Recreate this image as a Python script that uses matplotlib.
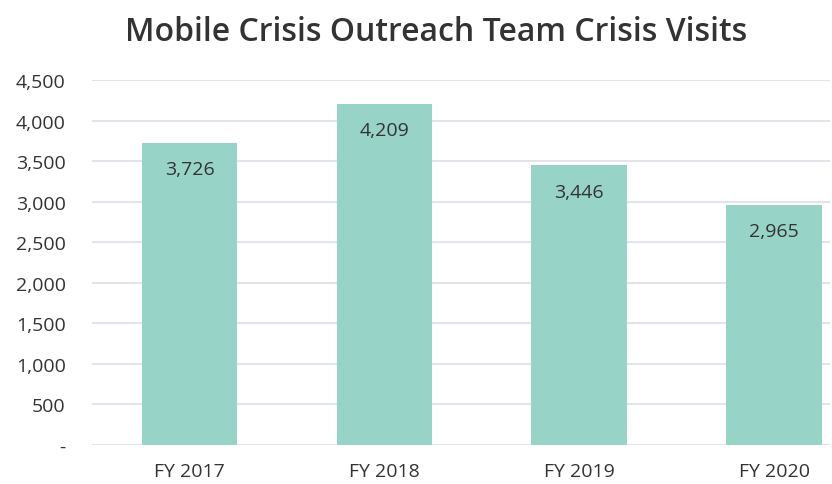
import matplotlib.pyplot as plt
from matplotlib.ticker import FuncFormatter

years = ["FY 2017", "FY 2018", "FY 2019", "FY 2020"]
visits = [3726, 4209, 3446, 2965]
yticks = [0, 500, 1000, 1500, 2000, 2500, 3000, 3500, 4000, 4500]

plt.rcParams['font.family'] = ['Open Sans', 'DejaVu Sans']

fig = plt.figure(figsize=(8.32, 4.85), dpi=100)
ax = fig.add_axes([0.1106, 0.0804, 0.887, 0.7526])

x = range(len(years))
bars = ax.bar(x, visits, width=0.49, color='#97D3C7', zorder=2)

for i, v in enumerate(visits):
    ax.annotate(f"{v:,}", (i, v), xytext=(0, -19), textcoords='offset points',
                ha='center', va='center', fontsize=14, color='#333333')

ax.set_xlim(-0.5, 3.287)
ax.set_ylim(0, 4500)
ax.set_yticks(yticks)
ax.yaxis.set_major_formatter(FuncFormatter(lambda v, p: "-" if v == 0 else f"{int(v):,}"))
ax.set_xticks(list(x))
ax.set_xticklabels(years)
ax.tick_params(axis='both', length=0, labelsize=14, colors='#333333')
ax.tick_params(axis='y', pad=19)
ax.tick_params(axis='x', pad=12)
for lbl in ax.get_yticklabels():
    lbl.set_horizontalalignment('right')

ax.grid(axis='y', color='#E3E3EB', linewidth=1.5, zorder=0)
for s in ax.spines.values():
    s.set_visible(False)

fig.suptitle("Mobile Crisis Outreach Team Crisis Visits", x=0.524, y=0.968,
             fontsize=23, fontweight='semibold', color='#333333')

fig.savefig("out.png", dpi=100)
